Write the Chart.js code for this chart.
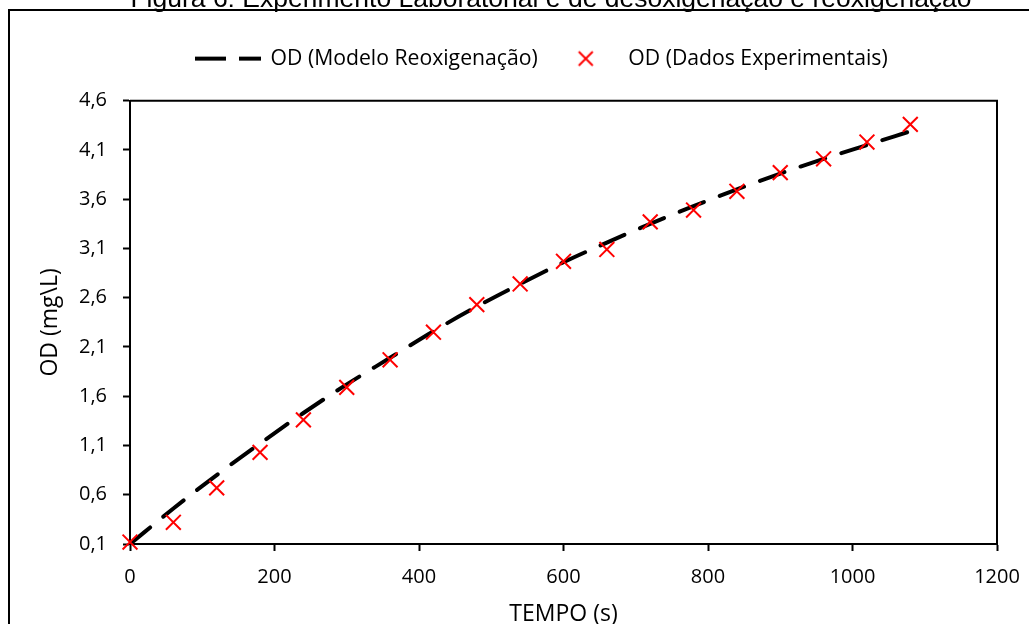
<!DOCTYPE html>
<html lang="pt">
<head>
<meta charset="utf-8">
<title>Figura 6</title>
<script src="https://cdn.jsdelivr.net/npm/chart.js@4.4.1/dist/chart.umd.min.js"></script>
<style>
  html, body { margin:0; padding:0; background:#fff; }
  #wrap { width:1029px; height:624px; position:relative; }
</style>
</head>
<body>
<div id="wrap"><canvas id="odChart"></canvas></div>
<script>
// ============ DADOS ============
const titulo = 'Figura 6: Experimento Laboratorial e de desoxigenação e reoxigenação';
const tempoS   = [0, 60, 120, 180, 240, 300, 360, 420, 480, 540, 600, 660, 720, 780, 840, 900, 960, 1020, 1080];
const odModelo = [0.10, 0.46, 0.80, 1.12, 1.43, 1.72, 1.99, 2.26, 2.51, 2.74, 2.96, 3.16, 3.35, 3.53, 3.70, 3.86, 4.01, 4.15, 4.29];
const odDados  = [0.12, 0.32, 0.67, 1.03, 1.36, 1.69, 1.97, 2.25, 2.53, 2.74, 2.97, 3.09, 3.37, 3.49, 3.68, 3.87, 4.01, 4.18, 4.36];
const xTicks = [0, 200, 400, 600, 800, 1000, 1200];
const yTicks = [0.1, 0.6, 1.1, 1.6, 2.1, 2.6, 3.1, 3.6, 4.1, 4.6];

const FONT = "'Open Sans', sans-serif";
const PAD_R = 32, PAD_T = 53.5;
const LEG_PAD = 16;

// amostras da legenda (linha tracejada e X vermelho)
function amostraLinha() {
  const c = document.createElement('canvas'); c.width = 66; c.height = 8;
  const g = c.getContext('2d');
  g.strokeStyle = '#000'; g.lineWidth = 4; g.setLineDash([31, 13]);
  g.beginPath(); g.moveTo(0, 4); g.lineTo(66, 4); g.stroke();
  return c;
}
function amostraX() {
  const c = document.createElement('canvas'); c.width = 18; c.height = 18;
  const g = c.getContext('2d');
  g.strokeStyle = '#ff0000'; g.lineWidth = 2;
  g.beginPath(); g.moveTo(2, 2); g.lineTo(16, 16); g.moveTo(16, 2); g.lineTo(2, 16); g.stroke();
  return c;
}

// moldura externa, título cortado no topo, caixa do gráfico e posição da legenda
const moldura = {
  id: 'moldura',
  afterLayout(chart) {
    const leg = chart.legend;
    leg.left = 196 - LEG_PAD; leg.right = chart.width - PAD_R;
    leg.top = 32; leg.bottom = leg.top + leg.height;
  },
  beforeDraw(chart) {
    const ctx = chart.ctx;
    ctx.save();
    ctx.fillStyle = '#fff';
    ctx.fillRect(0, 0, chart.width, chart.height);
    ctx.strokeStyle = '#000'; ctx.lineWidth = 2;
    ctx.strokeRect(9, 10, chart.width + 20, chart.height + 20);
    ctx.fillStyle = '#000';
    ctx.font = '26.5px "Liberation Sans", Arial, sans-serif';
    ctx.textAlign = 'center'; ctx.textBaseline = 'alphabetic';
    ctx.fillText(titulo, 551, 7);
    ctx.restore();
  },
  beforeDatasetsDraw(chart) {
    const {ctx, chartArea: a} = chart;
    ctx.save();
    ctx.strokeStyle = '#000'; ctx.lineWidth = 2;
    ctx.beginPath();
    ctx.moveTo(a.left, a.top); ctx.lineTo(a.right, a.top); ctx.lineTo(a.right, a.bottom);
    ctx.stroke();
    ctx.restore();
  }
};

const fmt = v => Number(v).toFixed(1).replace('.', ',');

new Chart(document.getElementById('odChart'), {
  type: 'scatter',
  data: {
    datasets: [
      {
        label: 'OD (Modelo Reoxigenação)',
        data: tempoS.map((t, i) => ({x: t, y: odModelo[i]})),
        showLine: true, pointRadius: 0, borderColor: '#000', borderWidth: 4,
        borderDash: [26, 17], borderCapStyle: 'round', cubicInterpolationMode: 'monotone',
        legendSample: amostraLinha(), order: 1
      },
      {
        label: 'OD (Dados Experimentais)',
        data: tempoS.map((t, i) => ({x: t, y: odDados[i]})),
        pointStyle: 'crossRot', pointRadius: 10.5, pointBorderWidth: 2,
        pointBorderColor: '#ff0000', pointBackgroundColor: 'rgba(0,0,0,0)',
        pointHoverRadius: 10.5, clip: false,
        legendSample: amostraX(), order: 0
      }
    ]
  },
  options: {
    responsive: true, maintainAspectRatio: false, animation: false,
    layout: { padding: {left: 0, right: PAD_R, top: PAD_T, bottom: 0} },
    plugins: {
      tooltip: {enabled: false},
      legend: {
        position: 'top', align: 'start',
        labels: {
          usePointStyle: true, pointStyleWidth: 64, padding: LEG_PAD, color: '#000',
          font: {family: FONT, size: 21.2},
          generateLabels(chart) {
            const items = Chart.defaults.plugins.legend.labels.generateLabels(chart);
            items.sort((a, b) => a.datasetIndex - b.datasetIndex);
            items.forEach(it => { it.pointStyle = chart.data.datasets[it.datasetIndex].legendSample; });
            return items;
          }
        }
      }
    },
    scales: {
      x: {
        type: 'linear', min: 0, max: 1200,
        afterBuildTicks: s => { s.ticks = xTicks.map(v => ({value: v})); },
        afterFit: s => { s.height = 80; s.paddingLeft = 0; s.paddingRight = 0; },
        grid: {drawOnChartArea: false, drawTicks: true, tickLength: 7, tickWidth: 2, tickColor: '#000'},
        border: {color: '#000', width: 2},
        ticks: {color: '#000', padding: 14, font: {family: FONT, size: 20}, callback: v => String(v)},
        title: {display: true, text: 'TEMPO (s)', color: '#000', font: {family: FONT, size: 23, lineHeight: 1.2}, padding: {top: 0, bottom: -4}}
      },
      y: {
        min: 0.1, max: 4.6,
        afterBuildTicks: s => { s.ticks = yTicks.map(v => ({value: v})); },
        afterFit: s => { s.width = 130; },
        grid: {drawOnChartArea: false, drawTicks: true, tickLength: 7, tickWidth: 2, tickColor: '#000'},
        border: {color: '#000', width: 2},
        ticks: {color: '#000', padding: 16, font: {family: FONT, size: 20}, callback: v => fmt(v)},
        title: {display: true, text: 'OD (mg\\L)', color: '#000', font: {family: FONT, size: 23, lineHeight: 1.2}, padding: {top: 37, bottom: 0}}
      }
    }
  },
  plugins: [moldura]
});
</script>
</body>
</html>
